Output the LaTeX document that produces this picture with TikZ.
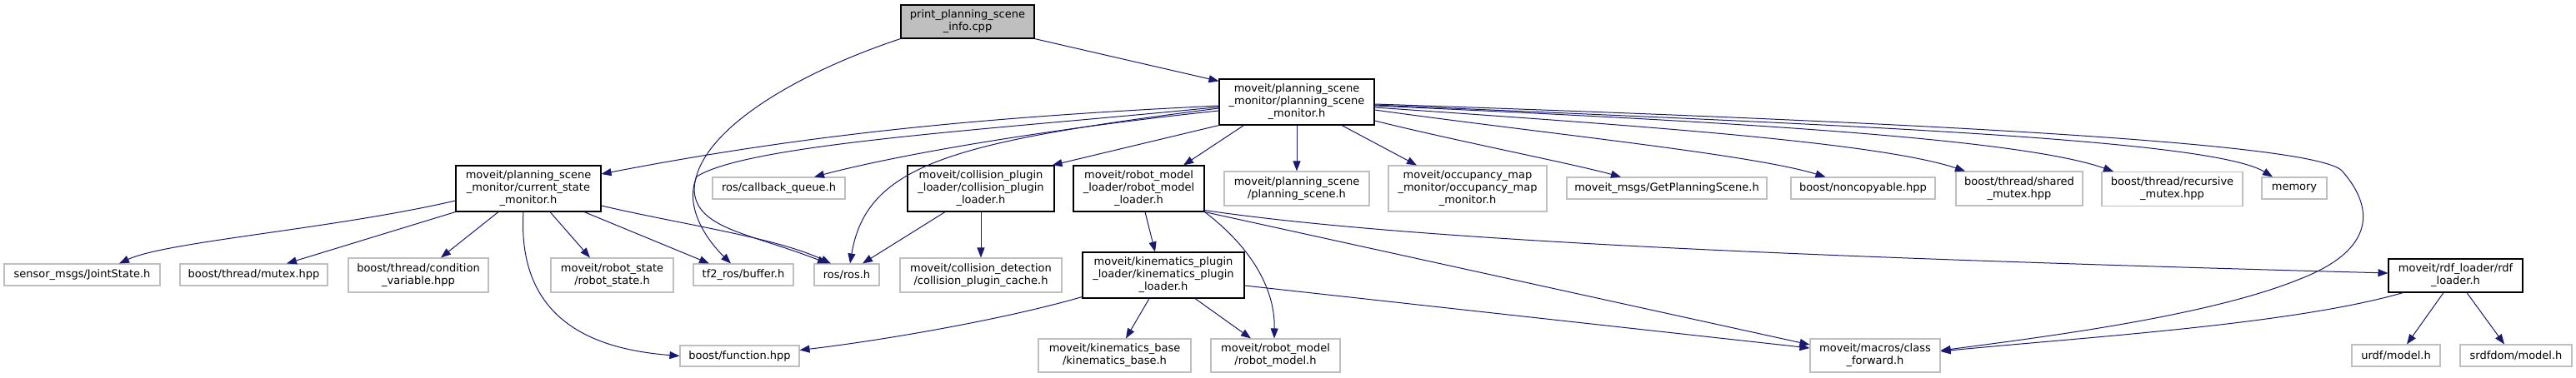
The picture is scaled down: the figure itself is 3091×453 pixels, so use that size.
\documentclass[tikz,border=0pt]{standalone}
\usepackage{fontspec}
\setmainfont{DejaVu Sans}
\usetikzlibrary{arrows.meta,calc}
\definecolor{edgecol}{HTML}{191970}
\definecolor{gborder}{HTML}{BFBFBF}
\definecolor{rootfill}{HTML}{BFBFBF}
\begin{document}
\begin{tikzpicture}[x=1pt,y=-1pt,
  box/.style={line width=1.1pt, inner sep=0pt, align=center, font=\fontsize{13}{15}\selectfont},
  gbox/.style={box, draw=gborder},
  kbox/.style={box, draw=black},
  rootbox/.style={kbox, fill=rootfill},
  edge/.style={draw=edgecol, line width=1pt, -{Triangle[length=12pt,width=9pt]}}]
\useasboundingbox (0,0) rectangle (3091,453);
\fill[white] (0,0) rectangle (3091,453);
% row 0
\node[rootbox, minimum width=160pt, minimum height=40pt] (p) at (1161,26) {print\_planning\_scene\\\_info.cpp};
% row 1
\node[kbox, minimum width=186pt, minimum height=55pt] (psm) at (1556,122.5) {moveit/planning\_scene\\\_monitor/planning\_scene\\\_monitor.h};
% row 2
\node[kbox, minimum width=174pt, minimum height=55pt] (csm) at (634,226.5) {moveit/planning\_scene\\\_monitor/current\_state\\\_monitor.h};
\node[gbox, minimum width=159pt, minimum height=26pt] (cbq) at (934.5,226) {ros/callback\_queue.h};
\node[kbox, minimum width=176pt, minimum height=55pt] (cpl) at (1177,226.5) {moveit/collision\_plugin\\\_loader/collision\_plugin\\\_loader.h};
\node[kbox, minimum width=157pt, minimum height=55pt] (rml) at (1366.5,226.5) {moveit/robot\_model\\\_loader/robot\_model\\\_loader.h};
\node[gbox, minimum width=174pt, minimum height=41pt] (ps) at (1556,226.5) {moveit/planning\_scene\\/planning\_scene.h};
\node[gbox, minimum width=190pt, minimum height=55pt] (omm) at (1761,226.5) {moveit/occupancy\_map\\\_monitor/occupancy\_map\\\_monitor.h};
\node[gbox, minimum width=240pt, minimum height=26pt] (gps) at (2000,226) {moveit\_msgs/GetPlanningScene.h};
\node[gbox, minimum width=173pt, minimum height=26pt] (nc) at (2235.5,226) {boost/noncopyable.hpp};
\node[gbox, minimum width=152pt, minimum height=41pt] (sm) at (2423,226.5) {boost/thread/shared\\\_mutex.hpp};
\node[gbox, minimum width=169pt, minimum height=41pt] (rm) at (2606.5,227) {boost/thread/recursive\\\_mutex.hpp};
\node[gbox, minimum width=78pt, minimum height=26pt] (mem) at (2753,226) {memory};
% row 3
\node[gbox, minimum width=187pt, minimum height=26pt] (sj) at (98.5,330) {sensor\_msgs/JointState.h};
\node[gbox, minimum width=177pt, minimum height=26pt] (mx) at (304.5,330) {boost/thread/mutex.hpp};
\node[gbox, minimum width=168pt, minimum height=41pt] (cv) at (502,330.5) {boost/thread/condition\\\_variable.hpp};
\node[gbox, minimum width=147pt, minimum height=41pt] (rs) at (734.5,330.5) {moveit/robot\_state\\/robot\_state.h};
\node[gbox, minimum width=120pt, minimum height=26pt] (tf) at (892,330) {tf2\_ros/buffer.h};
\node[gbox, minimum width=78pt, minimum height=26pt] (ros) at (1016,330) {ros/ros.h};
\node[gbox, minimum width=194pt, minimum height=41pt] (cpc) at (1177,330.5) {moveit/collision\_detection\\/collision\_plugin\_cache.h};
\node[kbox, minimum width=194pt, minimum height=55pt] (kpl) at (1396,330.5) {moveit/kinematics\_plugin\\\_loader/kinematics\_plugin\\\_loader.h};
\node[kbox, minimum width=161pt, minimum height=40pt] (rdf) at (2946.5,331) {moveit/rdf\_loader/rdf\\\_loader.h};
% row 4
\node[gbox, minimum width=143pt, minimum height=25pt] (bf) at (887.5,427.5) {boost/function.hpp};
\node[gbox, minimum width=183pt, minimum height=40pt] (kb) at (1337.5,427) {moveit/kinematics\_base\\/kinematics\_base.h};
\node[gbox, minimum width=155pt, minimum height=40pt] (rmh) at (1530.5,427) {moveit/robot\_model\\/robot\_model.h};
\node[gbox, minimum width=156pt, minimum height=40pt] (cf) at (2250,427) {moveit/macros/class\\\_forward.h};
\node[gbox, minimum width=106pt, minimum height=26pt] (urdf) at (2875,427) {urdf/model.h};
\node[gbox, minimum width=134pt, minimum height=26pt] (srdf) at (3019,427) {srdfdom/model.h};
% edges from root
\draw[edge] (p.south east) -- ($(psm.north west)+(0,3)$);
\draw[edge] (p.south west) .. controls (950,90) and (835,160) .. (833,228) .. controls (835,275) and (900,280) .. ($(ros.north)+(-23,0)$);
% edges from planning_scene_monitor
\draw[edge] ($(psm.west)+(0,4.5)$) .. controls (1150,142) and (950,165) .. ($(csm.east)+(0,-17.5)$);
\draw[edge] ($(psm.west)+(0,6)$) .. controls (1200,155) and (900,172) .. (836,212) .. controls (820,250) and (850,290) .. ($(tf.north)+(-15,0)$);
\draw[edge] ($(psm.west)+(0,7.5)$) .. controls (1150,170) and (1040,195) .. ($(ros.north)+(4,0)$);
\draw[edge] ($(psm.west)+(0,10.5)$) .. controls (1300,150) and (1100,180) .. ($(cbq.north)+(42.5,0)$);
\draw[edge] (psm.south west) -- ($(cpl.north east)+(-3,0)$);
\draw[edge] ($(psm.south west)+(30,0)$) -- ($(rml.north)+(53.5,0)$);
\draw[edge] (psm.south) -- (ps.north);
\draw[edge] ($(psm.south)+(54,0)$) -- ($(omm.north)+(-61,0)$);
\draw[edge] ($(psm.east)+(0,22.5)$) .. controls (1750,170) and (1880,195) .. ($(gps.north)+(-55,0)$);
\draw[edge] ($(psm.east)+(0,9.5)$) .. controls (1850,160) and (2100,185) .. ($(nc.north)+(-45,0)$);
\draw[edge] ($(psm.east)+(0,6.5)$) .. controls (1950,150) and (2250,170) .. ($(sm.north)+(-65,0)$);
\draw[edge] ($(psm.east)+(0,4.5)$) .. controls (2050,145) and (2420,165) .. ($(rm.north)+(-70.5,0)$);
\draw[edge] ($(psm.east)+(0,3.5)$) .. controls (2150,148) and (2650,165) .. ($(mem.north)+(-26,0)$);
\draw[edge] ($(psm.east)+(0,2.5)$) .. controls (2400,150) and (2780,175) .. (2810,205) .. controls (2850,250) and (2850,300) .. (2760,335) .. controls (2650,380) and (2450,405) .. ($(cf.east)+(0,-6)$);
% edges from current_state_monitor
\draw[edge] ($(csm.west)+(0,14.5)$) .. controls (400,275) and (200,290) .. ($(sj.north)+(44.5,0)$);
\draw[edge] (csm.south west) -- ($(mx.north)+(39.5,0)$);
\draw[edge] ($(csm.south)+(-36,0)$) -- ($(cv.north)+(27,0)$);
\draw[edge] ($(csm.south)+(26,0)$) -- ($(rs.north)+(-26.5,0)$);
\draw[edge] ($(csm.south)+(67,0)$) -- ($(tf.north)+(-41,0)$);
\draw[edge] ($(csm.east)+(0,20.5)$) .. controls (820,270) and (930,285) .. ($(ros.north)+(-19,0)$);
\draw[edge] ($(csm.south)+(-6,0)$) .. controls (620,390) and (720,420) .. (bf.west);
% collision plugin loader
\draw[edge] ($(cpl.south)+(-43,0)$) -- ($(ros.north)+(19,0)$);
\draw[edge] (cpl.south) -- (cpc.north);
% robot model loader
\draw[edge] ($(rml.south)+(7.5,0)$) -- ($(kpl.north)+(-10,0)$);
\draw[edge] (rml.south east) .. controls (1505,300) and (1530,350) .. ($(rmh.north)+(-1.5,0)$);
\draw[edge] (rml.south east) -- ($(cf.west)+(0,-13)$);
\draw[edge] ($(rml.south east)+(0,-2)$) .. controls (1700,290) and (2200,310) .. ($(rdf.west)+(0,-3)$);
% kinematics plugin loader
\draw[edge] ($(kpl.south west)+(0,-2)$) .. controls (1200,385) and (1050,410) .. ($(bf.east)+(0,-7)$);
\draw[edge] ($(kpl.south)+(-17,0)$) -- ($(kb.north)+(13.5,0)$);
\draw[edge] ($(kpl.south)+(38,0)$) -- ($(rmh.north)+(-29.5,0)$);
\draw[edge] ($(kpl.east)+(0,12.5)$) -- ($(cf.west)+(0,-9)$);
% rdf loader
\draw[edge] ($(rdf.south west)+(18,0)$) .. controls (2750,390) and (2500,405) .. ($(cf.east)+(0,-5)$);
\draw[edge] ($(rdf.south)+(-14.5,0)$) -- ($(urdf.north)+(13,0)$);
\draw[edge] ($(rdf.south)+(13.5,0)$) -- ($(srdf.north)+(-14,0)$);
\end{tikzpicture}
\end{document}
